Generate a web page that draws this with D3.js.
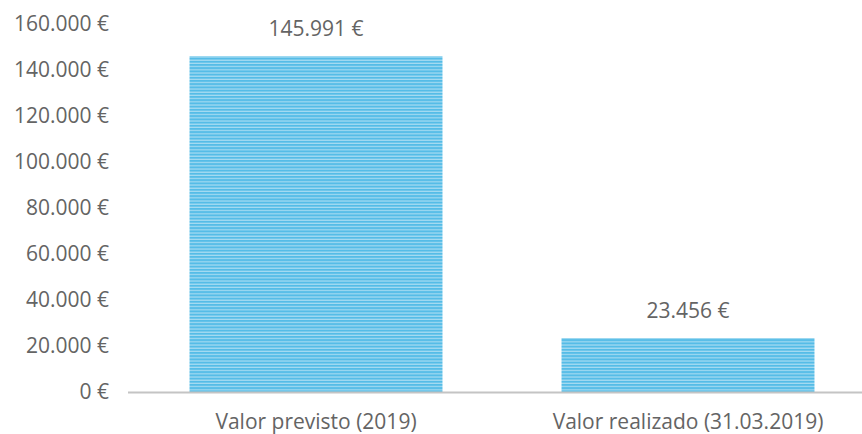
<!DOCTYPE html>
<html><head><meta charset="utf-8">
<script src="https://cdn.jsdelivr.net/npm/d3@7"></script>
<style>body{margin:0;background:#fff}svg{display:block}text{font-family:"Open Sans",sans-serif;fill:#646464}</style>
</head><body><svg id="c" width="862" height="434"></svg>
<script>
const categories = ["Valor previsto (2019)", "Valor realizado (31.03.2019)"];
const values = [145991, 23456];
const valueLabels = ["145.991 €", "23.456 €"];
const yTicks = [0, 20000, 40000, 60000, 80000, 100000, 120000, 140000, 160000];
const yTickLabels = ["0 €", "20.000 €", "40.000 €", "60.000 €", "80.000 €", "100.000 €", "120.000 €", "140.000 €", "160.000 €"];

const svg = d3.select("#c");
const x = d3.scaleBand().domain(categories).range([130, 874]).paddingInner(0.32).paddingOuter(0.16);
const y = d3.scaleLinear().domain([0, 160000]).range([392, 24]);

const defs = svg.append("defs");
const pat = defs.append("pattern").attr("id", "stripes").attr("patternUnits", "userSpaceOnUse")
  .attr("width", 8).attr("height", 3.2);
pat.append("rect").attr("width", 8).attr("height", 3.2).attr("fill", "#a8dcf2");
pat.append("rect").attr("width", 8).attr("height", 2).attr("fill", "#55bce7");

svg.append("g").selectAll("text").data(yTicks).join("text")
  .attr("x", 109).attr("y", d => y(d)).attr("dy", "0.35em").attr("text-anchor", "end")
  .attr("font-size", 21).text((d, i) => yTickLabels[i]);

svg.append("g").selectAll("rect").data(values).join("rect")
  .attr("x", (d, i) => x(categories[i])).attr("width", x.bandwidth())
  .attr("y", d => y(d)).attr("height", d => y(0) - y(d))
  .attr("fill", "url(#stripes)");

svg.append("line").attr("x1", 128).attr("x2", 862).attr("y1", y(0) + 0.5).attr("y2", y(0) + 0.5)
  .attr("stroke", "#c4c4c4").attr("stroke-width", 2);

svg.append("g").selectAll("text").data(values).join("text")
  .attr("x", (d, i) => x(categories[i]) + x.bandwidth() / 2).attr("y", d => y(d) - 20)
  .attr("text-anchor", "middle").attr("font-size", 21).text((d, i) => valueLabels[i]);

svg.append("g").selectAll("text").data(categories).join("text")
  .attr("x", d => x(d) + x.bandwidth() / 2).attr("y", 429)
  .attr("text-anchor", "middle").attr("font-size", 21).text(d => d);
</script></body></html>
